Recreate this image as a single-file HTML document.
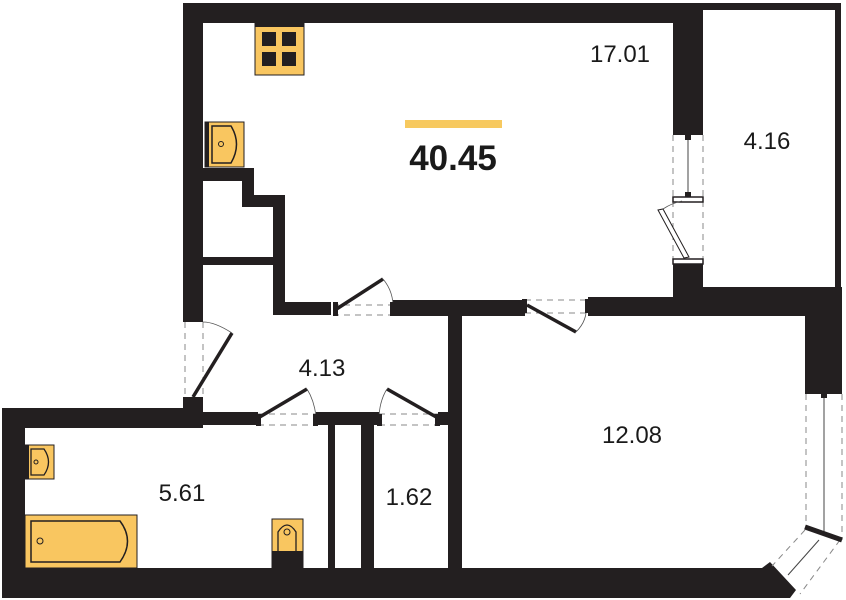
<!DOCTYPE html>
<html><head><meta charset="utf-8"><style>
html,body{margin:0;padding:0;background:#fff;}
svg{display:block}
text{font-family:"Liberation Sans",sans-serif;fill:#1a1a1a}
</style></head><body>
<svg width="846" height="600" viewBox="0 0 846 600" xmlns="http://www.w3.org/2000/svg">
<g fill="#231f20">
<!-- top wall -->
<rect x="183" y="3" width="520" height="20"/>
<!-- 4.16 room thin border -->
<rect x="703" y="3" width="138" height="7"/>
<rect x="835" y="3" width="6" height="290"/>
<!-- partition 17.01 / 4.16 -->
<rect x="673" y="3" width="30" height="132"/>
<rect x="673" y="263" width="30" height="37"/>
<rect x="703" y="287" width="138" height="13"/>
<!-- left wall -->
<rect x="183" y="3" width="20" height="319"/>
<!-- stair walls -->
<rect x="203" y="168" width="51" height="13"/>
<rect x="242" y="168" width="12" height="39"/>
<rect x="242" y="195" width="43" height="12"/>
<rect x="273" y="195" width="12" height="120"/>
<rect x="203" y="257" width="70" height="8"/>
<rect x="273" y="302" width="58" height="13"/>
<!-- wall between 17.01 and lower -->
<rect x="393" y="300" width="132" height="16"/>
<rect x="588" y="297" width="253" height="19"/>
<!-- right wall of 12.08 -->
<rect x="805" y="287" width="37" height="107"/>
<!-- 12.08 left wall -->
<rect x="448" y="316" width="14" height="255"/>
<!-- hallway left lower piece -->
<rect x="183" y="397" width="20" height="15"/>
<!-- bathroom top wall -->
<rect x="2" y="408" width="201" height="20"/>
<rect x="203" y="412" width="55" height="13"/>
<rect x="316" y="412" width="63" height="13"/>
<rect x="438" y="412" width="12" height="13"/>
<!-- bathroom left -->
<rect x="2" y="408" width="23" height="190"/>
<!-- shaft walls -->
<rect x="328" y="425" width="7" height="145"/>
<rect x="361" y="425" width="13" height="145"/>
<!-- bottom wall -->
<polygon points="2,568 762,568 770,562 796,590 790,598 2,598"/>
</g>

<!-- kitchen stove -->
<rect x="255" y="23" width="49" height="52" fill="#f9c660" stroke="#231f20" stroke-width="1"/>
<rect x="255" y="23" width="49" height="4" fill="#231f20"/>
<rect x="262" y="32" width="14" height="14" fill="#231f20"/>
<rect x="282" y="32" width="14" height="14" fill="#231f20"/>
<rect x="262" y="52" width="14" height="14" fill="#231f20"/>
<rect x="282" y="52" width="14" height="14" fill="#231f20"/>
<!-- kitchen sink -->
<rect x="205" y="122" width="39" height="45" fill="#f9c660" stroke="#231f20" stroke-width="1"/>
<rect x="205" y="122" width="4" height="45" fill="#231f20"/>
<path d="M212 126 H231 Q242 144 231 163 H212 Z" fill="none" stroke="#231f20" stroke-width="1.5"/>
<circle cx="221" cy="144" r="2.5" fill="none" stroke="#231f20"/>

<!-- bathroom sink -->
<rect x="25" y="445" width="29" height="34" fill="#f9c660" stroke="#231f20" stroke-width="1"/>
<rect x="25" y="445" width="4" height="34" fill="#231f20"/>
<path d="M31 449 H44 Q53 462 44 475 H31 Z" fill="none" stroke="#231f20" stroke-width="1.3"/>
<circle cx="36" cy="462" r="2" fill="none" stroke="#231f20"/>
<!-- bath -->
<rect x="25" y="515" width="112" height="53" fill="#f9c660" stroke="#231f20" stroke-width="1"/>
<path d="M31 521 H120 Q135 541 120 562 H31 Z" fill="none" stroke="#231f20" stroke-width="1.5"/>
<circle cx="40" cy="541" r="3" fill="none" stroke="#231f20"/>
<!-- toilet -->
<rect x="272" y="519" width="31" height="49" fill="#f9c660" stroke="#231f20" stroke-width="1"/>
<rect x="272" y="551" width="31" height="17" fill="#231f20"/>
<path d="M278 551 V532 Q287 518 296 532 V551" fill="none" stroke="#231f20" stroke-width="1.3"/>
<circle cx="287" cy="532" r="3" fill="none" stroke="#231f20"/>

<g fill="none" stroke="#888" stroke-width="1" stroke-dasharray="6,5">
<!-- doors dashed -->
<path d="M333 305 H393 M333 315 H393"/>
<path d="M525 300 H588 M525 313 H588"/>
<path d="M673 135 V263 M703 135 V263"/>
<path d="M185 322 V397 M203 322 V397"/>
<path d="M258 414 H316 M258 425 H316"/>
<path d="M379 414 H438 M379 425 H438"/>
<path d="M806 394 V528 M842 394 V540"/>
<path d="M805 530 L772 566 M840 540 L800 594"/>
</g>
<!-- door leaves -->
<g stroke="#231f20" stroke-width="3.5" fill="none">
<line x1="335" y1="310" x2="383" y2="279"/>
<line x1="527" y1="305" x2="576" y2="332"/>
<line x1="193" y1="397" x2="232" y2="333"/>
<line x1="258" y1="418" x2="307" y2="389"/>
<line x1="438" y1="418" x2="387" y2="389"/>
</g>
<g stroke="#555" stroke-width="0.8" fill="none">
<path d="M383 279 Q394 292 393 310"/>
<path d="M576 332 Q588 320 586 305"/>
<path d="M232 333 Q215 322 203 322"/>
<path d="M307 389 Q314 400 316 416"/>
<path d="M387 389 Q380 400 379 416"/>
</g>
<g fill="#231f20">
<rect x="333" y="302" width="5" height="14"/><rect x="390" y="302" width="5" height="14"/>
<rect x="522" y="299" width="5" height="14"/><rect x="585" y="299" width="5" height="14"/>
<rect x="256" y="414" width="5" height="12"/><rect x="313" y="414" width="5" height="12"/>
<rect x="377" y="414" width="5" height="12"/><rect x="435" y="414" width="5" height="12"/>
</g>
<!-- sliding door 17.01/4.16 -->
<line x1="688" y1="137" x2="688" y2="196" stroke="#444" stroke-width="1"/>
<rect x="685" y="135" width="6" height="5" fill="#231f20"/>
<rect x="685" y="192" width="6" height="5" fill="#231f20"/>
<rect x="673" y="197" width="30" height="5" fill="#fff" stroke="#231f20" stroke-width="1.5"/>
<rect x="673" y="259" width="30" height="5" fill="#fff" stroke="#231f20" stroke-width="1.5"/>
<path d="M658 210 L684 258 L689 257 L663 209 Z" fill="#fff" stroke="#231f20" stroke-width="1"/>
<path d="M663 209 Q672 203 682 201" fill="none" stroke="#555" stroke-width="0.8"/>
<!-- balcony window -->
<line x1="824" y1="396" x2="824" y2="532" stroke="#444" stroke-width="1"/>
<rect x="821" y="393" width="6" height="5" fill="#231f20"/>
<line x1="805" y1="527" x2="842" y2="540" stroke="#231f20" stroke-width="5"/>
<line x1="819" y1="540" x2="788" y2="575" stroke="#444" stroke-width="1"/>

<!-- area summary -->
<rect x="405" y="120" width="97" height="8" fill="#f7c95f"/>
<text x="453" y="170" font-size="35" font-weight="bold" text-anchor="middle" fill="#111">40.45</text>
<!-- room labels -->
<g font-size="24" text-anchor="middle">
<text x="620" y="62">17.01</text>
<text x="767" y="149">4.16</text>
<text x="322" y="376">4.13</text>
<text x="632" y="443">12.08</text>
<text x="182" y="501">5.61</text>
<text x="409" y="505">1.62</text>
</g>
</svg>
</body></html>
